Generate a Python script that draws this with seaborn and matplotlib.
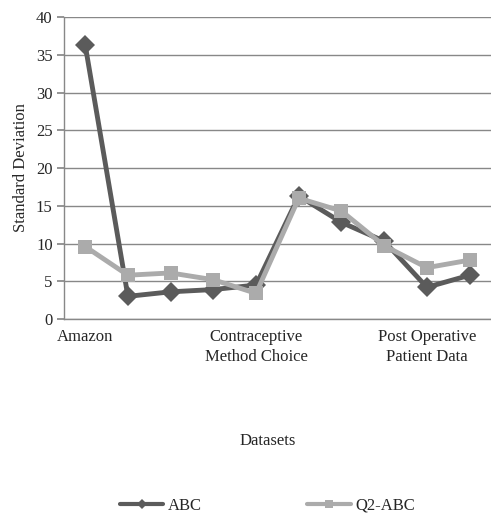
import matplotlib
matplotlib.use("Agg")
import matplotlib.pyplot as plt
import seaborn as sns
import pandas as pd
from matplotlib.lines import Line2D

# Ten datasets; Excel only printed every fourth name on the axis
datasets = ["Amazon", "D2", "D3", "D4", "Contraceptive\nMethod Choice",
            "D6", "D7", "D8", "Post Operative\nPatient Data", "D10"]
abc = [36.3, 3.0, 3.6, 3.9, 4.5, 16.3, 12.8, 10.3, 4.2, 5.8]
q2_abc = [9.6, 5.8, 6.1, 5.2, 3.4, 16.0, 14.3, 9.7, 6.8, 7.8]
shown_ticks = [0, 4, 8]

df = pd.DataFrame({
    "idx": list(range(len(datasets))) * 2,
    "value": abc + q2_abc,
    "series": ["ABC"] * len(abc) + ["Q2-ABC"] * len(q2_abc),
})

sns.set_theme(style="white")
plt.rcParams["font.family"] = ["Liberation Serif", "DejaVu Serif"]

fig = plt.figure(figsize=(4.91, 5.17), dpi=100)
ax = fig.add_axes([0.130, 0.383, 0.870, 0.584])

sns.lineplot(data=df, x="idx", y="value", hue="series", style="series",
             palette={"ABC": "#5b5b5b", "Q2-ABC": "#ababab"},
             markers={"ABC": "D", "Q2-ABC": "s"}, dashes=False,
             linewidth=3.5, markersize=10, markeredgewidth=0, ax=ax, legend=False)

ax.set_xlim(-0.5, len(datasets) - 0.5)
ax.set_ylim(0, 40)
ax.set_yticks(range(0, 41, 5))
ax.set_xticks(shown_ticks)
ax.set_xticklabels([datasets[i] for i in shown_ticks], fontsize=12, linespacing=1.35)
ax.tick_params(axis="y", labelsize=12, length=5, color="#888888", direction="out", left=True, pad=3)
ax.tick_params(axis="x", length=0, pad=7)
ax.yaxis.grid(True, color="#888888", linewidth=1)
for s in ["top", "right"]:
    ax.spines[s].set_visible(False)
for s in ["left", "bottom"]:
    ax.spines[s].set_color("#888888")
    ax.spines[s].set_linewidth(1)
ax.set_xlabel("")
ax.set_ylabel("Standard Deviation", fontsize=12, labelpad=5)

fig.text(0.546, 0.147, "Datasets", ha="center", va="center", fontsize=12)

handles = [Line2D([], [], color="#5b5b5b", marker="D", linewidth=3, markersize=5, markeredgewidth=0),
           Line2D([], [], color="#ababab", marker="s", linewidth=3, markersize=6, markeredgewidth=0)]
fig.legend(handles, ["ABC", "Q2-ABC"], loc="center", bbox_to_anchor=(0.545, 0.022),
           ncol=2, frameon=False, fontsize=12, columnspacing=6.3, handlelength=2.6, handletextpad=0.3,
           borderpad=0.1)

fig.savefig("out.png", dpi=100)
